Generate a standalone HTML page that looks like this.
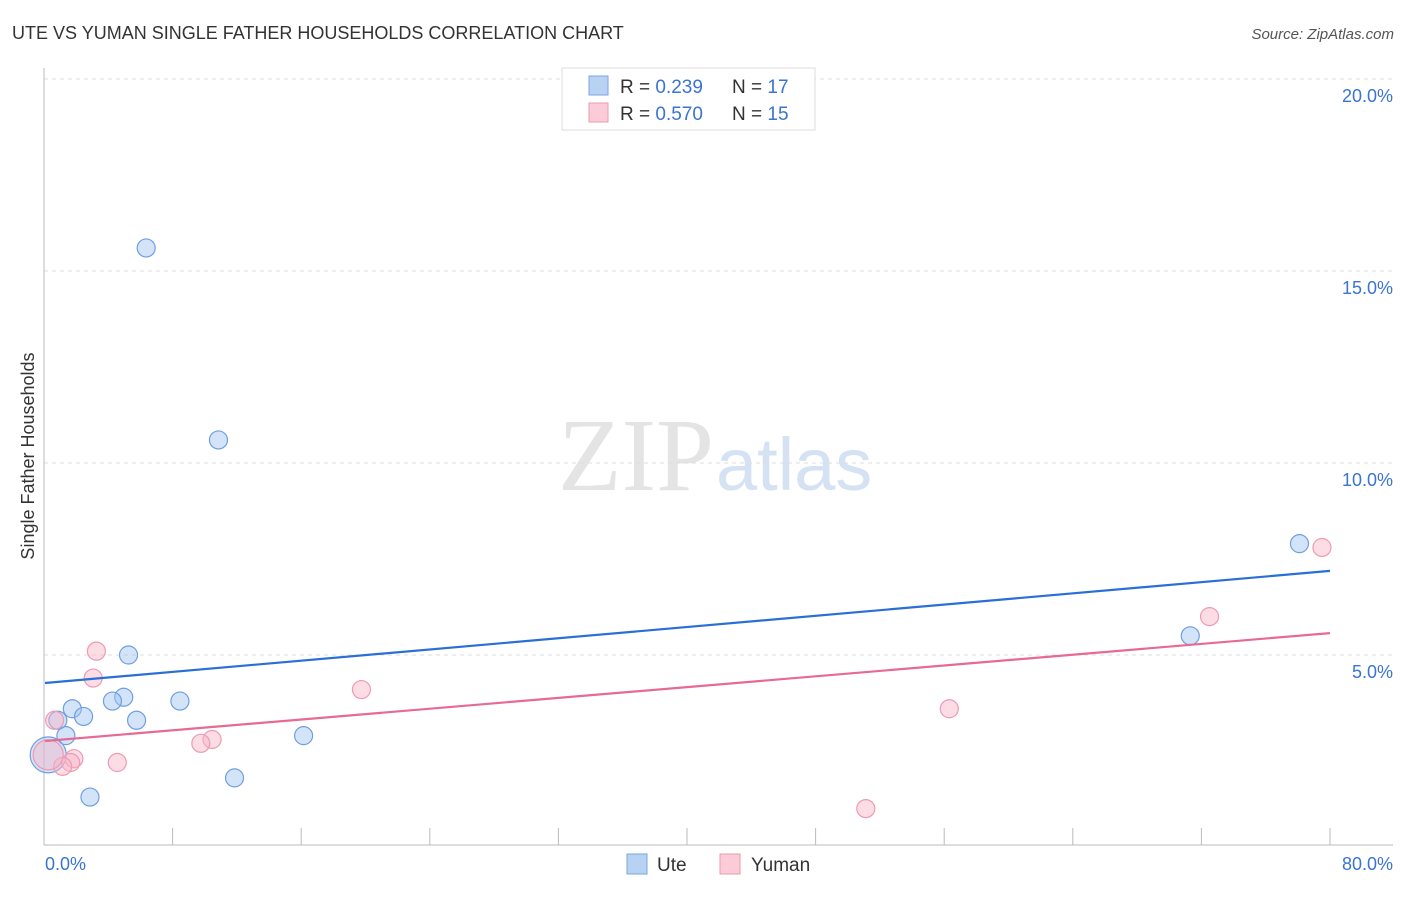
<!DOCTYPE html>
<html><head><meta charset="utf-8"><style>
body{margin:0;background:#fff;font-family:"Liberation Sans",sans-serif}
</style></head><body>
<svg width="1406" height="892" xmlns="http://www.w3.org/2000/svg" style="font-family:'Liberation Sans',sans-serif">
<text x="12" y="39" font-size="18" fill="#333">UTE VS YUMAN SINGLE FATHER HOUSEHOLDS CORRELATION CHART</text>
<text x="1394" y="39" font-size="15" fill="#555" font-style="italic" text-anchor="end">Source: ZipAtlas.com</text>
<text x="714" y="490" font-size="104" fill="#e4e4e4" text-anchor="end" font-family="Liberation Serif">ZIP</text>
<text x="716" y="490" font-size="74" fill="#d4e2f4">atlas</text>
<g id="grid"></g>
<line x1="44" y1="68" x2="44" y2="845" stroke="#bbb"/>
<line x1="44" y1="845" x2="1393" y2="845" stroke="#bbb"/>
<g id="marks"></g>
<text transform="translate(34,456) rotate(-90)" font-size="18" fill="#333" text-anchor="middle">Single Father Households</text>
<text x="45" y="870" font-size="18" fill="#3a74d0">0.0%</text>
<text x="1393" y="870" font-size="18" fill="#3a74d0" text-anchor="end">80.0%</text>
<g>
<rect x="562" y="68" width="253" height="62" fill="#fff" stroke="#ddd"/>
<rect x="589" y="76" width="19" height="19" fill="#b8d2f4" stroke="#7aa6e0"/>
<rect x="589" y="103" width="19" height="19" fill="#fbcbd8" stroke="#ee9ab2"/>
<text x="620" y="93" font-size="19" fill="#333">R = <tspan fill="#3a74d0">0.239</tspan><tspan x="732">N = </tspan><tspan fill="#3a74d0">17</tspan></text>
<text x="620" y="120" font-size="19" fill="#333">R = <tspan fill="#3a74d0">0.570</tspan><tspan x="732">N = </tspan><tspan fill="#3a74d0">15</tspan></text>
</g>
<g>
<rect x="627" y="854" width="20" height="20" fill="#b8d2f4" stroke="#7aa6e0"/>
<text x="657" y="871" font-size="19" fill="#333">Ute</text>
<rect x="720" y="854" width="20" height="20" fill="#fbcbd8" stroke="#ee9ab2"/>
<text x="751" y="871" font-size="19" fill="#333">Yuman</text>
</g>
</svg>
<script>
const yTicks=[5,10,15,20];
const yTickLabels=["5.0%","10.0%","15.0%","20.0%"];
const uteX=[6.3,10.8,78.1,71.3,5.2,4.9,4.2,8.4,1.7,2.4,0.8,5.7,1.3,16.1,11.8,2.8,0.2];
const uteY=[15.6,10.6,7.9,5.5,5.0,3.9,3.8,3.8,3.6,3.4,3.3,3.3,2.9,2.9,1.8,1.3,2.4];
const uteR=[9,9,9,9,9,9,9,9,9,9,9,9,9,9,9,9,18];
const yumX=[3.2,3.0,19.7,56.3,0.6,10.4,9.7,1.8,4.5,1.6,1.1,51.1,72.5,79.5,0.2];
const yumY=[5.1,4.4,4.1,3.6,3.3,2.8,2.7,2.3,2.2,2.2,2.1,1.0,6.0,7.8,2.4];
const yumR=[9,9,9,9,9,9,9,9,9,9,9,9,9,9,15];
const uteLine=[4.27,7.19];
const yumLine=[2.76,5.57];
const NS="http://www.w3.org/2000/svg";
const X=v=>45+v*(1330-45)/80;
const Y=v=>847-v*38.4;
const grid=document.getElementById('grid'),marks=document.getElementById('marks');
function mk(tag,a,p){const e=document.createElementNS(NS,tag);for(const k in a)e.setAttribute(k,a[k]);p.appendChild(e);return e;}
yTicks.forEach((t,i)=>{
 const l=mk('line',{x1:44,x2:1393,y1:Y(t),y2:Y(t),stroke:'#ddd','stroke-dasharray':'4,4'},grid);
 
 
 const tx=mk('text',{x:1393,y:Y(t)+23,'font-size':18,fill:'#3a74d0','text-anchor':'end'},grid);
 tx.textContent=yTickLabels[i];
 
 
});
for(let i=1;i<=10;i++){const x=44+i*128.6;
 const t=mk('line',{x1:x,x2:x,y1:828,y2:845,stroke:'#bbb'},grid);
 
 }
function pts(xs,ys,rs,fill,stroke,name){xs.forEach((x,i)=>{
 const c=mk('circle',{cx:X(x),cy:Y(ys[i]),r:rs[i],fill:fill,stroke:stroke,'stroke-width':1.2},marks);
 
 });}
pts(uteX,uteY,uteR,'rgba(160,195,240,0.45)','#6e9fe0','ute-point');
pts(yumX,yumY,yumR,'rgba(248,180,200,0.45)','#ee9ab2','yuman-point');
const l1=mk('line',{x1:X(0),x2:X(80),y1:Y(uteLine[0]),y2:Y(uteLine[1]),stroke:'#2a6fd6','stroke-width':2.2},marks);


const l2=mk('line',{x1:X(0),x2:X(80),y1:Y(yumLine[0]),y2:Y(yumLine[1]),stroke:'#e66a93','stroke-width':2.2},marks);


</script>
</body></html>
